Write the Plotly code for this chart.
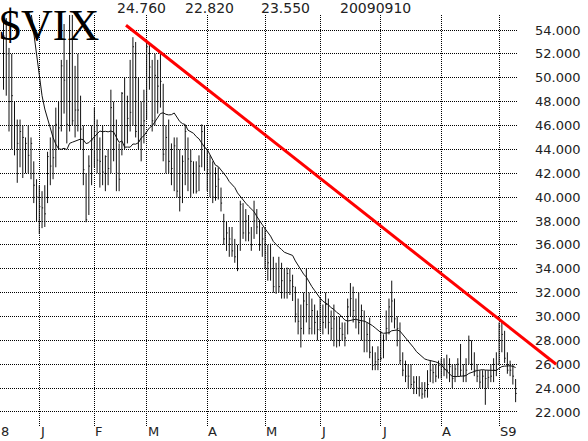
import plotly.graph_objects as go
import pandas as pd

# ---------------- data (trading-day index 0 = 2008-12-12 ... 186 = 2009-09-10) -------------
# closes of the 19 sessions before the window (only feed the 20-day average)
prior_closes = [68.0, 70.0, 74.0, 79.0, 72.0, 66.0, 62.0, 58.0, 60.0, 64.0,
                78.0, 74.0, 72.0, 75.3, 61.0, 59.0, 58.0, 60.0, 57.2]

dec_h = [55.5, 55.0, 52.5, 52.0, 48.0, 46.5, 46.5, 46.0, 45.0, 46.0, 45.0, 43.0, 41.5]
dec_l = [49.0, 48.5, 45.5, 44.0, 43.5, 41.2, 42.5, 41.6, 42.0, 42.0, 41.5, 39.5, 38.0]
dec_c = [53.5, 52.0, 48.0, 48.5, 46.0, 44.5, 45.5, 45.0, 44.5, 43.5, 44.5, 41.0, 40.0]

jan_h = [41.0, 40.5, 41.0, 43.8, 45.0, 46.0, 47.5, 48.0, 51.5, 54.5, 51.5, 56.8, 57.0, 51.0, 52.0, 48.5, 46.0, 42.0, 43.5, 46.0]
jan_l = [36.9, 37.4, 37.5, 39.5, 41.0, 41.5, 42.5, 44.0, 45.5, 47.0, 44.5, 45.5, 46.0, 45.0, 45.5, 44.0, 41.0, 37.9, 38.5, 41.0]
jan_c = [39.2, 39.1, 38.6, 43.4, 42.6, 43.3, 46.1, 45.8, 51.0, 49.8, 46.1, 56.6, 46.4, 47.3, 47.3, 45.7, 42.3, 38.1, 42.6, 44.8]

feb_h = [47.5, 46.5, 45.0, 46.0, 43.5, 44.0, 49.0, 48.0, 46.5, 44.5, 48.8, 50.0, 48.5, 51.5, 53.4, 53.0, 50.0, 48.0, 49.0]
feb_l = [42.5, 42.0, 40.8, 41.0, 40.5, 41.0, 42.0, 43.0, 40.5, 40.5, 43.5, 44.0, 44.5, 45.5, 46.0, 45.0, 44.0, 43.0, 44.5]
feb_c = [45.5, 43.1, 43.0, 42.1, 43.4, 42.4, 47.5, 44.0, 42.0, 41.5, 48.7, 46.0, 46.6, 47.1, 52.6, 45.5, 44.7, 46.0, 46.4]

mar_h = [53.0, 53.0, 51.5, 52.0, 51.5, 52.0, 49.5, 46.0, 46.5, 44.5, 45.0, 45.0, 44.0, 43.5, 46.0, 45.0, 44.0, 43.0, 43.0, 43.5, 46.1, 46.0]
mar_l = [46.5, 49.0, 45.5, 46.0, 47.0, 47.5, 43.0, 42.0, 42.0, 41.0, 40.5, 40.0, 38.8, 39.5, 41.0, 40.5, 40.0, 40.3, 40.3, 40.5, 42.5, 42.2]
mar_c = [52.6, 50.9, 46.4, 50.2, 49.3, 49.7, 43.6, 45.0, 43.0, 42.4, 44.3, 40.5, 40.0, 43.0, 45.5, 43.2, 43.0, 42.0, 40.5, 42.6, 45.5, 44.1]

apr_h = [44.0, 43.5, 43.0, 42.5, 42.5, 40.8, 38.6, 38.0, 37.5, 37.5, 36.5, 36.0, 39.7, 39.5, 39.0, 38.5, 37.5, 39.7, 39.0, 38.0, 37.5]
apr_l = [40.5, 40.0, 39.5, 39.7, 39.8, 38.8, 36.0, 35.5, 35.0, 35.0, 34.5, 33.8, 35.5, 36.5, 36.3, 36.3, 35.5, 36.5, 36.9, 35.5, 35.0]
apr_c = [42.3, 42.0, 40.0, 40.9, 41.5, 39.5, 36.5, 37.0, 36.5, 35.5, 35.0, 34.0, 39.4, 37.0, 38.0, 37.0, 36.0, 38.0, 37.5, 36.0, 36.5]

may_h = [37.4, 36.0, 36.1, 35.0, 34.5, 35.0, 34.5, 34.0, 34.1, 34.0, 33.5, 32.5, 31.5, 31.0, 32.0, 34.0, 32.0, 31.5, 31.0, 30.5]
may_l = [34.0, 33.0, 33.0, 32.0, 31.9, 32.0, 31.5, 31.5, 31.5, 31.8, 31.3, 29.5, 28.5, 27.4, 28.5, 29.5, 28.5, 28.5, 28.5, 28.0]
may_c = [35.3, 34.5, 34.0, 32.5, 34.0, 32.5, 33.0, 32.0, 33.6, 33.0, 32.5, 30.2, 29.6, 29.0, 31.3, 31.0, 29.0, 30.5, 29.5, 28.9]

jun_h = [31.5, 31.0, 32.0, 31.5, 30.5, 31.0, 30.0, 30.0, 29.5, 29.5, 31.5, 32.8, 32.5, 31.5, 32.0, 31.0, 30.5, 29.5, 29.9, 27.5, 27.0, 27.5]
jun_l = [28.8, 28.5, 29.0, 28.5, 28.0, 27.5, 27.4, 27.5, 28.0, 27.5, 28.5, 30.0, 29.5, 29.0, 28.5, 28.0, 27.0, 27.0, 26.5, 25.5, 25.5, 25.5]
jun_c = [30.0, 29.5, 31.0, 29.5, 29.0, 29.8, 28.0, 29.0, 28.5, 28.2, 30.8, 31.5, 30.5, 30.0, 29.5, 30.5, 28.0, 28.5, 27.0, 25.9, 26.2, 26.4]

jul_h = [28.8, 28.5, 30.5, 31.5, 33.0, 31.5, 30.0, 29.5, 27.0, 26.3, 26.0, 26.0, 25.0, 25.0, 25.0, 24.5, 24.5, 25.5, 26.3, 26.0, 26.0, 26.3]
jul_l = [26.3, 26.5, 28.0, 28.5, 29.5, 29.0, 27.5, 26.0, 25.0, 24.5, 24.0, 24.0, 23.5, 23.5, 23.3, 23.1, 23.2, 23.2, 24.5, 24.4, 24.5, 24.8]
jul_c = [26.5, 28.0, 29.0, 30.8, 31.3, 29.8, 29.0, 26.3, 25.5, 25.0, 25.0, 24.3, 24.5, 24.0, 24.0, 23.5, 23.8, 24.3, 25.5, 25.3, 25.0, 25.9]

aug_h = [26.5, 26.5, 26.8, 26.5, 26.0, 26.0, 26.5, 27.7, 26.0, 26.5, 28.4, 28.0, 27.0, 26.0, 25.5, 25.5, 25.5, 25.5, 26.0, 26.5, 27.0]
aug_l = [24.8, 25.0, 24.8, 24.5, 24.0, 24.5, 25.0, 25.0, 24.5, 24.5, 26.0, 25.5, 25.0, 24.5, 24.0, 24.0, 22.6, 24.0, 24.5, 24.5, 25.0]
aug_c = [25.9, 25.6, 25.5, 25.8, 24.8, 25.6, 26.0, 25.5, 25.0, 25.5, 28.0, 26.0, 25.5, 25.0, 24.5, 25.0, 24.8, 24.9, 25.0, 25.5, 26.0]

sep_h = [29.5, 29.5, 28.8, 27.0, 26.3, 26.0, 24.76]
sep_l = [26.0, 27.0, 26.1, 25.2, 25.0, 24.3, 22.82]
sep_c = [29.2, 28.5, 26.5, 25.5, 25.5, 25.0, 23.55]

month_start_idx = [13, 33, 52, 74, 95, 115, 137, 159, 180]
month_labels = ["J", "F", "M", "A", "M", "J", "J", "A", "S9"]
y_ticks = list(range(22, 56, 2))

header_values = ["24.760", "22.820", "23.550", "20090910"]
symbol = "$VIX"

trend_idx = [44.5, 200.7]
trend_val = [54.4, 26.0]

# ---------------- assemble ----------------
highs = dec_h + jan_h + feb_h + mar_h + apr_h + may_h + jun_h + jul_h + aug_h + sep_h
lows = dec_l + jan_l + feb_l + mar_l + apr_l + may_l + jun_l + jul_l + aug_l + sep_l
closes = dec_c + jan_c + feb_c + mar_c + apr_c + may_c + jun_c + jul_c + aug_c + sep_c
n = len(closes)
idx = list(range(n))

ma = pd.Series(prior_closes + closes).rolling(20).mean().tolist()[len(prior_closes):]

bx, by = [], []
for i in idx:
    bx += [i, i, None, i, i + 0.4, None]
    by += [lows[i], highs[i], None, closes[i], closes[i], None]

X_RANGE = [-1.27, 186.5]
Y_RANGE = [20.74, 55.26]
W, H = 588, 441
PLOT_R = 517
span = X_RANGE[1] - X_RANGE[0]
grid = dict(showgrid=True, gridcolor="#000000", gridwidth=1, griddash="1px,1px",
            zeroline=False, showline=False)

fig = go.Figure()
fig.add_trace(go.Scatter(x=bx, y=by, mode="lines", line=dict(color="#111111", width=1),
                         hoverinfo="skip", showlegend=False))
fig.add_trace(go.Scatter(x=idx, y=ma, mode="lines", line=dict(color="#111111", width=1),
                         hoverinfo="skip", showlegend=False))

fig.update_layout(
    width=W, height=H,
    margin=dict(l=0, r=W - PLOT_R, t=15, b=14),
    paper_bgcolor="white", plot_bgcolor="white",
    font=dict(family="DejaVu Sans", size=13, color="#222222"),
    xaxis=dict(range=X_RANGE, tickvals=month_start_idx, showticklabels=False, ticks="", **grid),
    yaxis=dict(range=Y_RANGE, side="right", tickvals=y_ticks, tickformat=".3f", ticks="",
               ticklabelstandoff=17, tickfont=dict(family="DejaVu Sans", size=13, color="#222222"),
               **grid),
)

# trend line: x mapped to paper units through the x-axis range so it may run past the plot edge
fig.add_shape(type="line", xref="paper", yref="y",
              x0=(trend_idx[0] - X_RANGE[0]) / span, y0=trend_val[0],
              x1=(trend_idx[1] - X_RANGE[0]) / span, y1=trend_val[1],
              line=dict(color="#ff0000", width=3), layer="above")

annotations = []
for v, lab in zip(month_start_idx, month_labels):
    annotations.append(dict(x=v, y=-0.012, xref="x", yref="paper", text=lab, showarrow=False,
                            xanchor="left", yanchor="middle", xshift=-1,
                            font=dict(family="DejaVu Sans", size=13, color="#222222")))
annotations.append(dict(x=0, y=-0.012, xref="paper", yref="paper", text="8", showarrow=False,
                        xanchor="left", yanchor="middle", xshift=-1,
                        font=dict(family="DejaVu Sans", size=13, color="#222222")))
hx = [115, 183, 259, 338]
for px, t in zip(hx, header_values):
    annotations.append(dict(x=px / PLOT_R, y=1.018, xref="paper", yref="paper", text=t,
                            showarrow=False, xanchor="left", yanchor="middle",
                            font=dict(family="DejaVu Sans", size=14, color="#222222")))
annotations.append(dict(x=-3 / PLOT_R, y=1.0, xref="paper", yref="paper", text=symbol,
                        showarrow=False, xanchor="left", yanchor="top", yshift=16,
                        font=dict(family="Liberation Serif", size=44, color="#000000")))
fig.update_layout(annotations=annotations)

fig.write_html("out.html", config={"displayModeBar": False},
               post_script="document.body.style.margin='0';")
